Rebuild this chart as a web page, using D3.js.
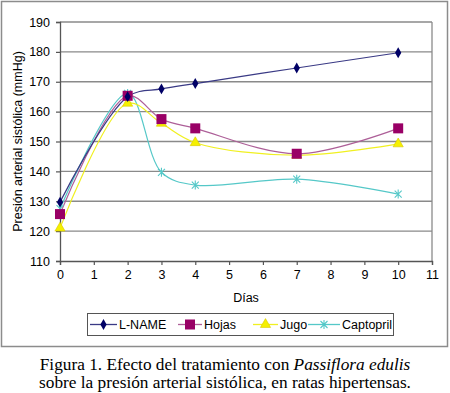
<!DOCTYPE html>
<html>
<head>
<meta charset="utf-8">
<script src="https://cdn.jsdelivr.net/npm/d3@7"></script>
<style>
  body { margin: 0; background: #fff; }
  svg { display: block; }
</style>
</head>
<body>
<div id="chart"></div>
<script>
// days measured and blood pressure per group (mmHg)
const days = [0, 2, 3, 4, 7, 10];
const lname = [129.7, 165.0, 167.6, 169.4, 174.6, 179.7];
const hojas = [125.7, 165.3, 157.5, 154.4, 145.9, 154.4];
const jugo = [121.0, 162.8, 156.1, 149.6, 145.4, 149.2];
const captopril = [127.5, 166.1, 139.7, 135.4, 137.4, 132.4];
const seriesNames = ["L-NAME", "Hojas", "Jugo", "Captopril"];
const yTicks = [110, 120, 130, 140, 150, 160, 170, 180, 190];
const xTicks = d3.range(0, 12);

const width = 450, height = 393;
const plot = {left: 60, top: 22, right: 432, bottom: 261};

const svg = d3.select("#chart").append("svg")
    .attr("width", width)
    .attr("height", height);

// outer frame of the chart
svg.append("rect")
    .attr("x", 1.5).attr("y", 1.5)
    .attr("width", 446).attr("height", 345)
    .attr("fill", "#fff")
    .attr("stroke", "#8c8c8c")
    .attr("stroke-width", 1.5);

const x = d3.scaleLinear().domain([0, 11]).range([plot.left, plot.right]);
const y = d3.scaleLinear().domain([110, 190]).range([plot.bottom, plot.top]);

// gridlines
svg.append("g")
    .selectAll("line")
    .data(yTicks.filter(d => d > 110))
    .enter()
    .append("line")
    .attr("x1", plot.left).attr("x2", plot.right)
    .attr("y1", d => y(d)).attr("y2", d => y(d))
    .attr("stroke", "#8a8a8a")
    .attr("stroke-width", 1.3);

// right border of the plot area
svg.append("line")
    .attr("x1", plot.right).attr("x2", plot.right)
    .attr("y1", plot.top).attr("y2", plot.bottom)
    .attr("stroke", "#8a8a8a")
    .attr("stroke-width", 1.3);

const fontFam = "'Liberation Sans', Arial, sans-serif";

const yAxis = svg.append("g")
    .attr("transform", "translate(" + plot.left + ",0)")
    .call(d3.axisLeft(y).tickValues(yTicks).tickSize(4).tickPadding(6));
const xAxis = svg.append("g")
    .attr("transform", "translate(0," + plot.bottom + ")")
    .call(d3.axisBottom(x).tickValues(xTicks).tickSize(4).tickPadding(5));

[yAxis, xAxis].forEach(ax => {
    ax.select(".domain").attr("stroke", "#555").attr("stroke-width", 1.3);
    ax.selectAll(".tick line").attr("stroke", "#555").attr("stroke-width", 1.2);
    ax.selectAll("text")
        .attr("font-family", fontFam)
        .attr("font-size", 12.5)
        .attr("fill", "#000");
});

// axis titles
svg.append("text")
    .attr("x", (plot.left + plot.right) / 2)
    .attr("y", 302)
    .attr("text-anchor", "middle")
    .attr("font-family", fontFam)
    .attr("font-size", 12.5)
    .text("Días");

svg.append("text")
    .attr("transform", "translate(22," + ((plot.top + plot.bottom) / 2) + ") rotate(-90)")
    .attr("text-anchor", "middle")
    .attr("font-family", fontFam)
    .attr("font-size", 12.5)
    .text("Presión arterial sistólica (mmHg)");

const styles = [
    {values: lname, line: "#3a3a85", mark: "#000066", shape: "diamond"},
    {values: hojas, line: "#ad5f98", mark: "#990066", shape: "square"},
    {values: jugo, line: "#f0f020", mark: "#f5f000", shape: "triangle"},
    {values: captopril, line: "#55c8c8", mark: "#55c8c8", shape: "cross"}
];

const lineGen = d3.line()
    .x(d => x(d[0]))
    .y(d => y(d[1]))
    .curve(d3.curveCatmullRom.alpha(0.5));

function drawMarker(g, shape, color, cx, cy) {
    if (shape === "diamond") {
        g.append("path")
            .attr("d", d3.symbol(d3.symbolDiamond, 34)())
            .attr("transform", "translate(" + cx + "," + cy + ")")
            .attr("fill", color);
    } else if (shape === "square") {
        g.append("rect")
            .attr("x", cx - 5).attr("y", cy - 5)
            .attr("width", 10).attr("height", 10)
            .attr("fill", color);
    } else if (shape === "triangle") {
        g.append("path")
            .attr("d", d3.symbol(d3.symbolTriangle, 45)())
            .attr("transform", "translate(" + cx + "," + cy + ")")
            .attr("fill", color)
            .attr("stroke", "#d8c800")
            .attr("stroke-width", 0.6);
    } else {
        g.append("path")
            .attr("d", "M" + (cx - 3.5) + "," + (cy - 3.5) + "L" + (cx + 3.5) + "," + (cy + 3.5) +
                "M" + (cx + 3.5) + "," + (cy - 3.5) + "L" + (cx - 3.5) + "," + (cy + 3.5) +
                "M" + cx + "," + (cy - 4.5) + "L" + cx + "," + (cy + 4.5))
            .attr("stroke", color)
            .attr("stroke-width", 1.1)
            .attr("fill", "none");
    }
}

// draw series in reverse so L-NAME ends up on top
styles.slice().reverse().forEach(s => {
    const pts = days.map((d, i) => [d, s.values[i]]);
    svg.append("path")
        .datum(pts)
        .attr("d", lineGen)
        .attr("fill", "none")
        .attr("stroke", s.line)
        .attr("stroke-width", 1.2);
});
styles.slice().reverse().forEach(s => {
    const g = svg.append("g");
    days.forEach((d, i) => drawMarker(g, s.shape, s.mark, x(d), y(s.values[i])));
});

// legend
const legend = svg.append("g");
legend.append("rect")
    .attr("x", 87.5).attr("y", 313.5)
    .attr("width", 306).attr("height", 22)
    .attr("fill", "#fff")
    .attr("stroke", "#555")
    .attr("stroke-width", 1);

const legendX = [90, 178, 253, 308];
const legendW = [27, 24, 25, 32];
seriesNames.forEach((name, i) => {
    const s = styles[i];
    const lx = legendX[i], ly = 324.5;
    legend.append("line")
        .attr("x1", lx).attr("x2", lx + legendW[i])
        .attr("y1", ly).attr("y2", ly)
        .attr("stroke", s.line)
        .attr("stroke-width", 1.3);
    drawMarker(legend, s.shape, s.mark, lx + legendW[i] / 2, ly);
    legend.append("text")
        .attr("x", lx + legendW[i] + 2)
        .attr("y", ly + 4.5)
        .attr("font-family", fontFam)
        .attr("font-size", 12.5)
        .text(name);
});

// caption
const serif = "'Liberation Serif', 'Times New Roman', serif";
const cap1 = svg.append("text")
    .attr("x", width / 2).attr("y", 370)
    .attr("text-anchor", "middle")
    .attr("font-family", serif)
    .attr("font-size", 17.3);
cap1.append("tspan").text("Figura 1. Efecto del tratamiento con ");
cap1.append("tspan").attr("font-style", "italic").text("Passiflora edulis");

svg.append("text")
    .attr("x", width / 2).attr("y", 388)
    .attr("text-anchor", "middle")
    .attr("font-family", serif)
    .attr("font-size", 17.3)
    .text("sobre la presión arterial sistólica, en ratas hipertensas.");
</script>
</body>
</html>
